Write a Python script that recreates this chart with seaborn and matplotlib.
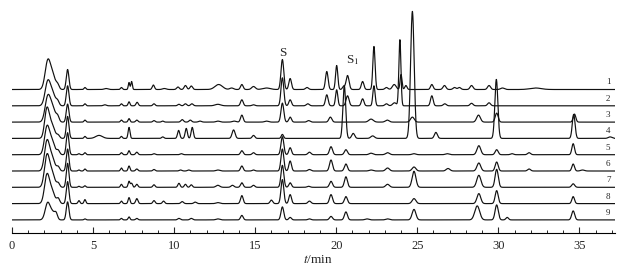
import numpy as np
import pandas as pd
import matplotlib
matplotlib.use("Agg")
import matplotlib.pyplot as plt
import seaborn as sns
from matplotlib.ticker import MultipleLocator

# Peaks: (retention time / min, height / px, width / min)
peaks_1 = [(2.2, 27, 0.14), (2.5, 14, 0.15), (2.82, 4, 0.08), (3.43, 20, 0.07),
           (4.5, 2, 0.05), (5.8, 1, 0.1), (6.75, 2, 0.05), (7.22, 7, 0.04), (7.38, 8, 0.04),
           (8.72, 4.5, 0.06), (9.4, 1, 0.1), (10.24, 2.5, 0.07), (10.7, 4, 0.07), (11.06, 3.5, 0.07),
           (12.75, 5, 0.2), (13.55, 1.5, 0.1), (14.18, 5, 0.07), (14.9, 3, 0.1), (15.7, 1.5, 0.2),
           (16.68, 30, 0.075), (17.16, 11, 0.07), (18.2, 2, 0.08), (19.42, 18, 0.07),
           (20.03, 24, 0.06), (20.45, 3, 0.06), (20.7, 14, 0.08), (21.63, 8, 0.07),
           (22.33, 43, 0.06), (23.1, 2, 0.08), (23.58, 5, 0.1), (24.0, 15, 0.05), (24.3, 4, 0.06),
           (25.9, 5, 0.07), (26.68, 4, 0.08), (27.3, 2, 0.08), (27.6, 2, 0.08), (28.35, 4, 0.08),
           (29.43, 4, 0.08), (30.26, 1.5, 0.1), (32.3, 1.5, 0.3)]
peaks_2 = [(2.2, 23, 0.14), (2.5, 12, 0.15), (2.82, 4, 0.08), (3.43, 20, 0.07),
           (4.5, 2, 0.05), (5.73, 1, 0.08), (6.75, 2, 0.05), (7.22, 4, 0.05), (7.72, 3.5, 0.06),
           (8.76, 2, 0.06), (10.3, 1.5, 0.07), (10.7, 2, 0.07), (11.1, 2, 0.07), (12.7, 1.5, 0.15),
           (14.18, 6, 0.07), (14.9, 1, 0.08), (16.68, 28, 0.075), (17.16, 6, 0.07), (18.25, 2, 0.08),
           (19.42, 11, 0.07), (20.03, 16, 0.06), (20.7, 10, 0.08), (21.63, 7, 0.07), (22.33, 20, 0.06),
           (23.1, 2, 0.08), (23.6, 3, 0.1), (23.93, 66, 0.055), (25.9, 10, 0.07), (26.7, 2, 0.08),
           (28.35, 2.5, 0.08), (29.43, 3, 0.08)]
peaks_3 = [(2.2, 24, 0.14), (2.5, 14, 0.15), (2.82, 5, 0.08), (3.43, 18, 0.07),
           (4.5, 2, 0.05), (6.75, 2, 0.05), (7.22, 3.5, 0.05), (7.7, 2, 0.06), (8.76, 1.5, 0.06),
           (9.3, 1, 0.06), (10.5, 2.5, 0.07), (11.0, 2, 0.07), (11.6, 1, 0.08), (12.7, 1, 0.1),
           (13.7, 1, 0.1), (14.18, 7, 0.07), (15.7, 1, 0.1), (16.68, 19, 0.075), (17.16, 5, 0.07),
           (18.3, 1.5, 0.08), (19.64, 5, 0.08), (22.15, 3, 0.12), (23.15, 2, 0.1), (24.7, 5, 0.1),
           (28.78, 7, 0.1), (29.9, 9, 0.08), (34.7, 8, 0.07)]
peaks_4 = [(2.15, 28, 0.12), (2.45, 14, 0.15), (2.85, 3, 0.08), (3.43, 22, 0.07),
           (4.5, 2, 0.05), (5.37, 3, 0.18), (6.75, 2, 0.05), (7.22, 11, 0.05), (9.3, 1.5, 0.06),
           (10.28, 8, 0.06), (10.75, 10, 0.06), (11.12, 11, 0.06), (13.67, 8.5, 0.08),
           (14.9, 3, 0.07), (16.68, 4, 0.06), (20.5, 53, 0.075), (21.05, 5, 0.08),
           (22.25, 2.5, 0.1), (24.7, 127, 0.095), (26.15, 6, 0.08), (29.88, 59, 0.08),
           (34.65, 24, 0.075), (36.9, 1.5, 0.1)]
peaks_5 = [(2.15, 26, 0.13), (2.45, 14, 0.15), (2.85, 4, 0.08), (3.43, 22, 0.07),
           (4.13, 1, 0.05), (4.5, 2, 0.05), (6.75, 2, 0.05), (7.22, 4, 0.05), (7.7, 2.5, 0.06),
           (8.76, 1, 0.06), (10.45, 1, 0.07), (14.18, 4, 0.07), (14.9, 2, 0.07), (16.68, 18, 0.075),
           (17.16, 7, 0.07), (18.35, 2.5, 0.08), (19.68, 8, 0.08), (20.6, 5, 0.08), (22.15, 1.5, 0.1),
           (23.17, 2, 0.1), (24.8, 1, 0.1), (26.85, 1, 0.1), (28.8, 9, 0.1), (29.9, 5, 0.08),
           (30.85, 1, 0.08), (31.9, 2, 0.08), (34.62, 11, 0.07)]
peaks_6 = [(2.15, 28, 0.13), (2.45, 14, 0.15), (2.85, 4, 0.08), (3.43, 22, 0.07),
           (4.13, 1, 0.05), (4.5, 2, 0.05), (6.75, 3, 0.05), (7.22, 5, 0.05), (7.7, 2, 0.06),
           (8.76, 1.5, 0.06), (10.4, 1, 0.07), (10.9, 1, 0.07), (12.7, 1, 0.1), (14.18, 5, 0.07),
           (14.9, 1, 0.07), (16.68, 22, 0.075), (17.16, 10, 0.07), (18.35, 1.5, 0.08),
           (19.68, 11, 0.08), (20.6, 7, 0.08), (22.15, 1, 0.1), (23.17, 3, 0.1), (24.8, 4, 0.1),
           (26.9, 2.5, 0.1), (28.8, 8, 0.1), (29.9, 9, 0.08), (31.9, 2, 0.08), (34.62, 7, 0.07),
           (35.2, 1, 0.1)]
peaks_7 = [(2.15, 30, 0.13), (2.45, 15, 0.15), (2.85, 4, 0.08), (3.43, 24, 0.07),
           (4.13, 1, 0.05), (4.5, 1.5, 0.05), (6.75, 3, 0.05), (7.22, 6, 0.05), (7.38, 4, 0.05),
           (7.7, 3, 0.06), (8.76, 2.5, 0.06), (10.3, 4, 0.06), (10.7, 3, 0.06), (11.06, 2.5, 0.06),
           (12.7, 2, 0.1), (13.6, 2, 0.08), (14.18, 4.5, 0.07), (14.9, 2, 0.07), (16.68, 22, 0.075),
           (17.16, 4.5, 0.07), (18.3, 1, 0.08), (19.68, 6, 0.08), (20.6, 10.5, 0.08),
           (23.17, 3, 0.1), (24.8, 16, 0.1), (28.8, 12, 0.11), (29.9, 18, 0.085), (34.62, 3.5, 0.08)]
peaks_8 = [(2.15, 27, 0.13), (2.45, 13, 0.15), (2.85, 5, 0.08), (3.43, 22, 0.07),
           (4.13, 3, 0.05), (4.5, 4, 0.05), (6.75, 2.5, 0.05), (7.22, 6, 0.05), (7.7, 5, 0.06),
           (8.76, 3, 0.06), (9.35, 2.5, 0.06), (10.5, 2, 0.07), (11.3, 1.5, 0.07), (12.7, 1, 0.1),
           (14.18, 8, 0.07), (16.0, 3.5, 0.07), (16.68, 24, 0.075), (17.16, 9, 0.07),
           (18.35, 2.5, 0.08), (19.68, 9, 0.08), (20.6, 7, 0.08), (24.8, 5, 0.1), (28.8, 10, 0.1),
           (29.9, 13, 0.08), (34.62, 7, 0.07)]
peaks_9 = [(2.2, 17, 0.13), (2.5, 7, 0.12), (2.72, 6, 0.08), (3.43, 18, 0.07),
           (4.5, 1, 0.05), (6.75, 1.5, 0.05), (7.22, 3, 0.05), (7.7, 1.5, 0.06), (10.3, 1.5, 0.07),
           (11.06, 1.5, 0.07), (12.7, 1, 0.1), (14.18, 4.5, 0.07), (16.68, 13, 0.075),
           (17.16, 2.5, 0.07), (18.35, 1, 0.08), (19.68, 3.5, 0.08), (20.6, 8, 0.08),
           (21.9, 1, 0.1), (23.17, 1, 0.1), (24.8, 10.5, 0.1), (28.7, 14, 0.13), (29.9, 15, 0.085),
           (30.55, 2.5, 0.07), (34.62, 9, 0.08)]

traces = [peaks_1, peaks_2, peaks_3, peaks_4, peaks_5, peaks_6, peaks_7, peaks_8, peaks_9]
trace_labels = ["1", "2", "3", "4", "5", "6", "7", "8", "9"]

# -----------------------------
# Build the signals
# -----------------------------
t = np.arange(0, 37.25, 0.01)
top_base = 143.5   # baseline of trace 1 (px above the time axis)
step = 16.3        # vertical offset between traces
broaden = 1.15     # peaks in the print look a little wider

rows = []
for i, peaks in enumerate(traces):
    base = top_base - step * i
    y = np.full_like(t, base)
    for rt, h, w in peaks:
        y += h * np.exp(-0.5 * ((t - rt) / (w * broaden)) ** 2)
    rows.append(pd.DataFrame({"t": t, "signal": y, "trace": trace_labels[i]}))
df = pd.concat(rows, ignore_index=True)

# -----------------------------
# Plot
# -----------------------------
sns.set_style("white")
plt.rcParams["font.family"] = ["Liberation Serif", "DejaVu Serif"]
plt.rcParams["mathtext.fontset"] = "stix"

fig = plt.figure(figsize=(6.22, 2.72), dpi=100)
ax = fig.add_axes([12 / 622, 39 / 272, 603 / 622, 233 / 272])

sns.lineplot(data=df, x="t", y="signal", units="trace", estimator=None,
             color="#111111", lw=0.85, ax=ax)

ax.set_xlim(0, 37.2)
ax.set_ylim(0, 233)
for side in ["left", "right", "top"]:
    ax.spines[side].set_visible(False)
ax.spines["bottom"].set_linewidth(0.8)
ax.spines["bottom"].set_color("black")
ax.set_yticks([])
ax.xaxis.set_major_locator(MultipleLocator(5))
ax.xaxis.set_minor_locator(MultipleLocator(1))
ax.tick_params(axis="x", which="major", direction="in", length=4, width=0.8,
               pad=5, labelsize=9, bottom=True)
ax.tick_params(axis="x", which="minor", direction="in", length=2.5, width=0.7, bottom=True)
ax.set_ylabel("")
ax.set_xlabel("$t$/min", fontsize=9.5)
ax.xaxis.set_label_coords(0.508, -0.09)

for i, lab in enumerate(trace_labels):
    ax.text(36.78, top_base - step * i + 7, lab, ha="center", va="center", fontsize=6.5)

ax.text(16.73, 176.5, "S", ha="center", va="baseline", fontsize=9.5)
ax.text(20.58, 170, r"S$_1$", ha="left", va="baseline", fontsize=9.5)

plt.savefig("out.png", dpi=100)
